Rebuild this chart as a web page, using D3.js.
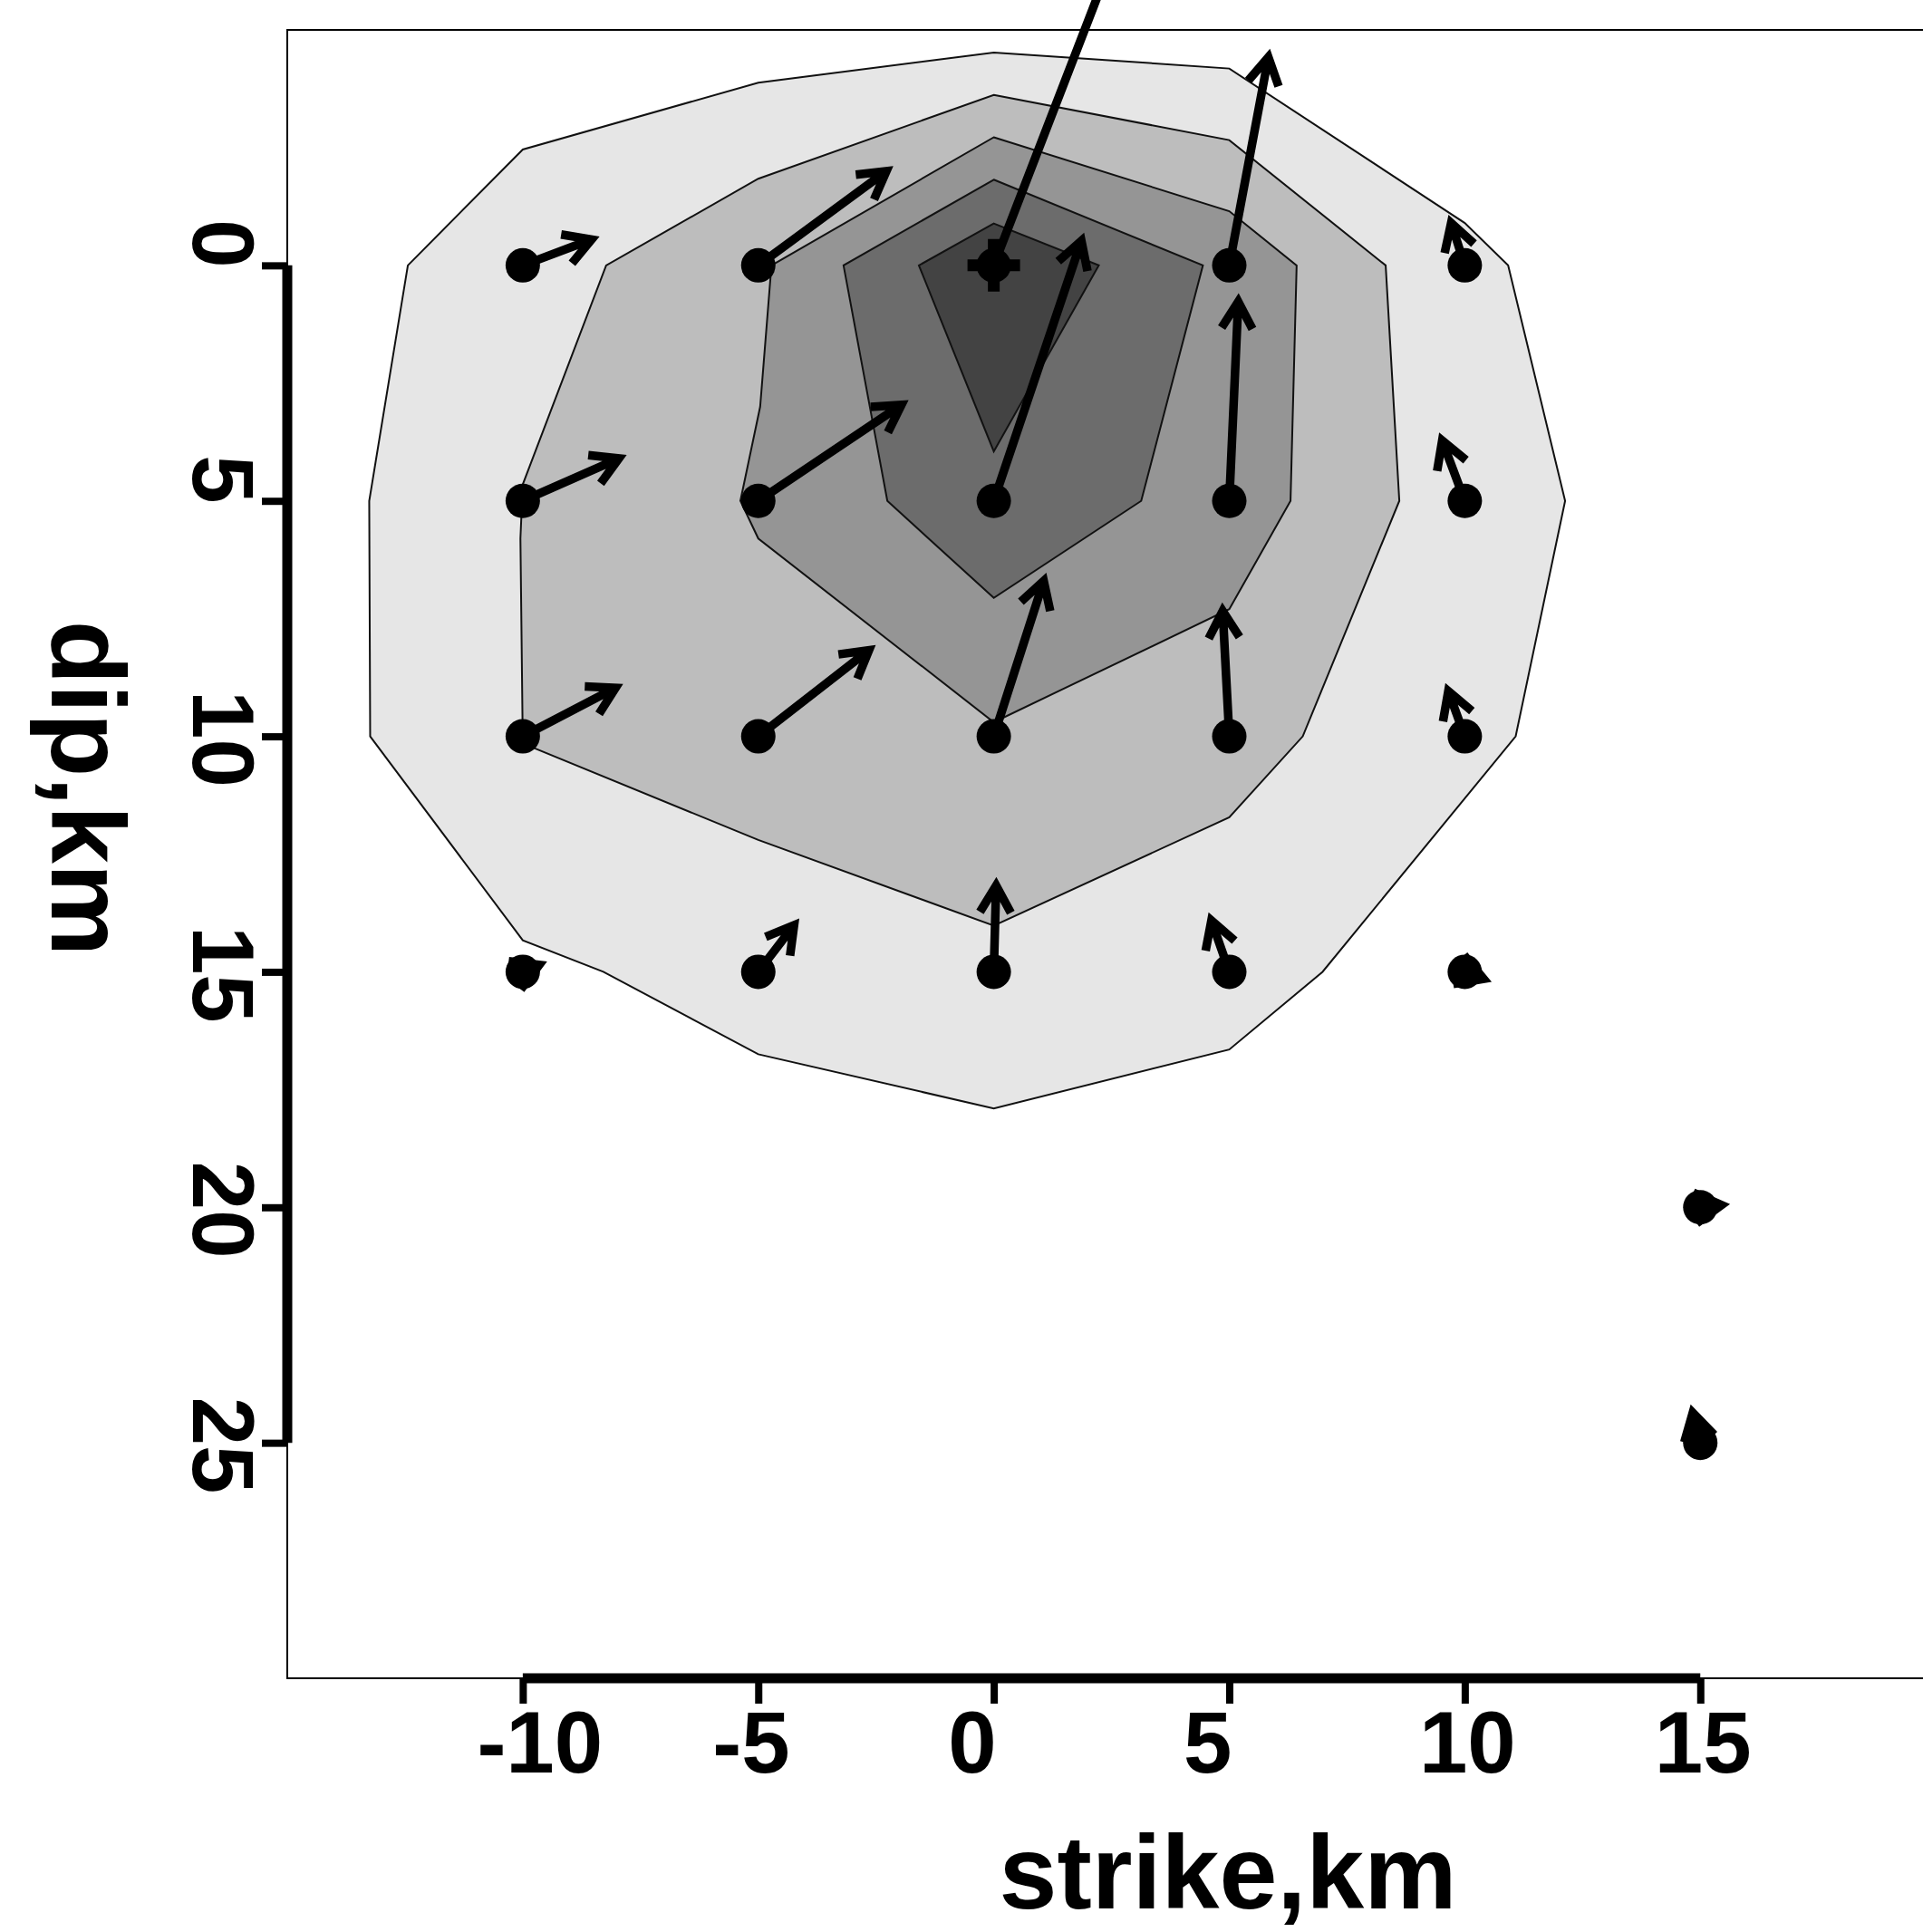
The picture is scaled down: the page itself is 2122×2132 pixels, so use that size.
<!DOCTYPE html>
<html>
<head>
<meta charset="utf-8">
<script src="https://cdn.jsdelivr.net/npm/d3@7"></script>
<style>
  html, body { margin: 0; padding: 0; background: #fff; }
  svg { display: block; }
</style>
</head>
<body>
<div id="vis"></div>
<script>
// slip model on the fault plane: contours of slip + slip vectors at the grid nodes

const xTicks = [-10, -5, 0, 5, 10, 15];
const yTicks = [0, 5, 10, 15, 20, 25];

// contour polygons (strike km, dip km), from outer to inner level
const level1 = [[0,-4.52],[5,-4.18],[10,-0.9],[10.92,0],[12.13,5],[11.08,10],[6.98,15],[5,16.65],
  [0,17.9],[-5,16.75],[-8.29,15],[-10,14.33],[-13.24,10],[-13.26,5],[-12.44,0],[-10,-2.46],[-5,-3.88]];
const level2 = [[0,-3.62],[5,-2.66],[8.32,0],[8.61,5],[6.56,10],[5,11.72],[0,14.02],[-5,12.2],
  [-10,10.15],[-10.05,5.8],[-10,4.65],[-8.23,0],[-5,-1.84]];
const level3 = [[0,-2.72],[5,-1.15],[6.43,0],[6.3,5],[5,7.3],[0,9.7],[-5,5.8],[-5.38,5],[-4.96,3],[-4.72,0]];
const level4 = [[0,-1.82],[4.44,0],[3.13,5],[0,7.06],[-2.26,5],[-3.19,0]];
const level5 = [[0,-0.89],[2.23,0],[0,3.95],[-1.59,0]];

// grid nodes and slip vectors (km)
const nodeStrike = [-10,-5,0,5,10, -10,-5,0,5,10, -10,-5,0,5,10, -10,-5,0,5,10, 15,15];
const nodeDip    = [0,0,0,0,0, 5,5,5,5,5, 10,10,10,10,10, 15,15,15,15,15, 20,25];
const slipStrike = [1.46,2.72,2.7,0.83,-0.29, 2.04,3.04,1.86,0.19,-0.48, 1.97,2.35,1.06,-0.14,-0.35,
  0.35,0.76,0.05,-0.38,0.4, 0.45,-0.16];
const slipDip    = [-0.55,-2.0,-7.0,-4.42,-0.9, -0.9,-2.04,-5.52,-4.23,-1.28, -1.03,-1.83,-3.3,-2.66,-0.96,
  -0.15,-0.99,-1.83,-1.09,0.15, -0.05,-0.64];

const hypocenter = [0, 0];

const width = 2122, height = 2132;
const fontFamily = "'Liberation Sans', Arial, sans-serif";

const x = d3.scaleLinear().domain([-15, 25]).range([317, 2396]);
const y = d3.scaleLinear().domain([-5, 30]).range([33, 1852]);

const svg = d3.select("#vis").append("svg")
  .attr("width", width)
  .attr("height", height);

////////// contours //////////

const fills = ["#e6e6e6", "#bdbdbd", "#959595", "#6c6c6c", "#434343"];
const polyLine = d3.line().x(d => x(d[0])).y(d => y(d[1])).curve(d3.curveLinearClosed);

svg.append("g")
  .selectAll("path")
  .data([level1, level2, level3, level4, level5])
  .join("path")
  .attr("d", polyLine)
  .attr("fill", (d, i) => fills[i])
  .attr("stroke", "#111")
  .attr("stroke-width", 2);

// plot box
svg.append("rect")
  .attr("x", x(-15))
  .attr("y", y(-5))
  .attr("width", x(25) - x(-15))
  .attr("height", y(30) - y(-5))
  .attr("fill", "none")
  .attr("stroke", "#000")
  .attr("stroke-width", 2);

////////// slip vectors //////////

const headLen = 34;
const headAngle = Math.PI / 6;
const nodes = nodeStrike.map((s, i) => ({ s: s, d: nodeDip[i], u: slipStrike[i], v: slipDip[i] }));

function arrowPath(n) {
  const x0 = x(n.s), y0 = y(n.d);
  const x1 = x(n.s + n.u), y1 = y(n.d + n.v);
  const a = Math.atan2(y1 - y0, x1 - x0);
  const ax = x1 - headLen * Math.cos(a - headAngle), ay = y1 - headLen * Math.sin(a - headAngle);
  const bx = x1 - headLen * Math.cos(a + headAngle), by = y1 - headLen * Math.sin(a + headAngle);
  return "M" + x0 + "," + y0 + "L" + x1 + "," + y1 +
    "M" + ax + "," + ay + "L" + x1 + "," + y1 + "L" + bx + "," + by;
}

svg.append("g")
  .selectAll("path")
  .data(nodes)
  .join("path")
  .attr("d", arrowPath)
  .attr("fill", "none")
  .attr("stroke", "#000")
  .attr("stroke-width", 9.5)
  .attr("stroke-linejoin", "miter")
  .attr("stroke-miterlimit", 10);

svg.append("g")
  .selectAll("circle")
  .data(nodes)
  .join("circle")
  .attr("cx", d => x(d.s))
  .attr("cy", d => y(d.d))
  .attr("r", 19)
  .attr("fill", "#000");

// hypocenter cross
const hx = x(hypocenter[0]), hy = y(hypocenter[1]);
svg.append("path")
  .attr("d", "M" + (hx - 29) + "," + hy + "H" + (hx + 29) + "M" + hx + "," + (hy - 29) + "V" + (hy + 29))
  .attr("stroke", "#000")
  .attr("stroke-width", 13);

////////// axes //////////

const plainNumber = d => String(d);

const xAxisG = svg.append("g")
  .attr("transform", "translate(0," + y(30) + ")")
  .call(d3.axisBottom(x).tickValues(xTicks).tickFormat(plainNumber).tickSize(28).tickSizeOuter(0));
xAxisG.select(".domain").remove();
xAxisG.selectAll(".tick line").attr("stroke", "#000").attr("stroke-width", 8);
xAxisG.selectAll(".tick text")
  .attr("fill", "#000")
  .attr("text-anchor", "start")
  .attr("x", -51)
  .attr("y", 104)
  .attr("dy", null)
  .style("font-family", fontFamily)
  .style("font-weight", "bold")
  .style("font-size", "96px");
xAxisG.append("line")
  .attr("x1", x(xTicks[0]))
  .attr("x2", x(xTicks[xTicks.length - 1]))
  .attr("stroke", "#000")
  .attr("stroke-width", 11);

const yAxisG = svg.append("g")
  .attr("transform", "translate(" + x(-15) + ",0)")
  .call(d3.axisLeft(y).tickValues(yTicks).tickFormat(plainNumber).tickSize(28).tickSizeOuter(0));
yAxisG.select(".domain").remove();
yAxisG.selectAll(".tick line").attr("stroke", "#000").attr("stroke-width", 8);
yAxisG.selectAll(".tick text")
  .attr("fill", "#000")
  .attr("text-anchor", "start")
  .attr("x", null)
  .attr("dy", null)
  .attr("transform", "translate(" + (213 - x(-15)) + ",-51) rotate(90)")
  .style("font-family", fontFamily)
  .style("font-weight", "bold")
  .style("font-size", "96px");
yAxisG.append("line")
  .attr("y1", y(yTicks[0]))
  .attr("y2", y(yTicks[yTicks.length - 1]))
  .attr("stroke", "#000")
  .attr("stroke-width", 11);

// axis titles
svg.append("text")
  .attr("x", 1355)
  .attr("y", 2106)
  .attr("text-anchor", "middle")
  .style("font-family", fontFamily)
  .style("font-weight", "bold")
  .style("font-size", "115px")
  .text("strike,km");

svg.append("text")
  .attr("transform", "translate(57,870) rotate(90)")
  .attr("text-anchor", "middle")
  .style("font-family", fontFamily)
  .style("font-weight", "bold")
  .style("font-size", "115px")
  .text("dip,km");
</script>
</body>
</html>
